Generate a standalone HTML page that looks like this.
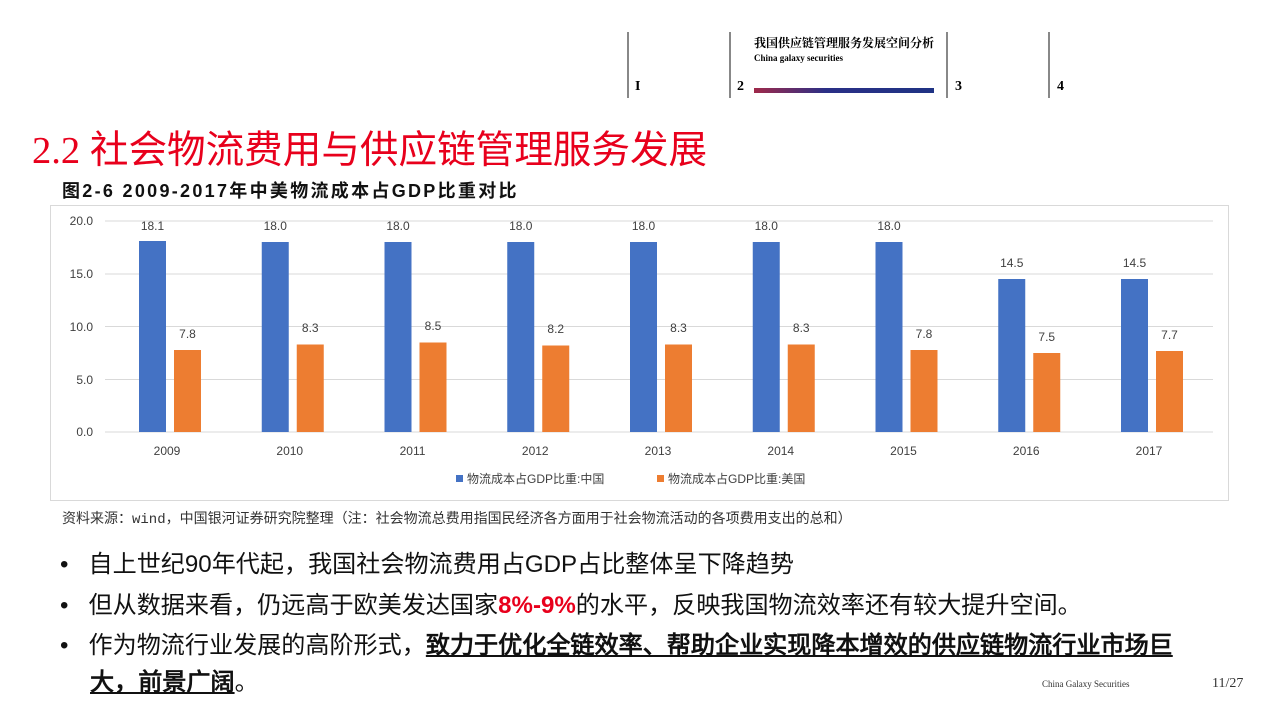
<!DOCTYPE html>
<html><head><meta charset="utf-8"><style>
body{margin:0;width:1280px;height:720px;background:#fff;position:relative;overflow:hidden;font-family:"Liberation Sans","Noto Sans CJK SC",sans-serif}
.a{position:absolute;white-space:nowrap}
.vl{position:absolute;width:2px;background:#888;top:32px;height:66px}
.n{position:absolute;top:79px;font:bold 14px "Liberation Serif",serif}
</style></head><body>
<div class="vl" style="left:627px"></div><div class="vl" style="left:729px"></div><div class="vl" style="left:946px"></div><div class="vl" style="left:1048px"></div>
<div class="n" style="left:635px">I</div><div class="n" style="left:737px">2</div><div class="n" style="left:955px">3</div><div class="n" style="left:1057px">4</div>
<div class="a" style="left:754px;top:34px;font:bold 12px 'Noto Serif CJK SC',serif">我国供应链管理服务发展空间分析</div>
<div class="a" style="left:754px;top:53px;font:bold 9px 'Liberation Serif',serif">China galaxy securities</div>
<div class="a" style="left:754px;top:88px;width:180px;height:5px;background:linear-gradient(90deg,#a0294a,#2a2f86 40%,#1f3384)"></div>
<div class="a" style="left:32px;top:126px;font:38.6px 'Liberation Serif','Noto Sans CJK SC',sans-serif;color:#e8001c;line-height:50px">2.2 社会物流费用与供应链管理服务发展</div>
<div class="a" style="left:62px;top:177px;font:bold 18px 'Liberation Sans','Noto Sans CJK SC',sans-serif;color:#111;letter-spacing:2.3px">图2-6 2009-2017年中美物流成本占GDP比重对比</div>
<div class="a" style="left:50px;top:205px;width:1177px;height:294px;border:1px solid #d9d9d9"></div>
<svg class="a" style="left:0;top:0" width="1280" height="720" font-family="Liberation Sans, Noto Sans CJK SC, sans-serif" font-size="12" fill="#404040">
<g stroke="#d9d9d9"><line x1="105" x2="1213" y1="221" y2="221"/><line x1="105" x2="1213" y1="274" y2="274"/><line x1="105" x2="1213" y1="326.5" y2="326.5"/><line x1="105" x2="1213" y1="379.5" y2="379.5"/><line x1="105" x2="1213" y1="432" y2="432"/></g>
<g text-anchor="end"><text x="93" y="225">20.0</text><text x="93" y="278">15.0</text><text x="93" y="331">10.0</text><text x="93" y="384">5.0</text><text x="93" y="436">0.0</text></g>
<g fill="#4472c4">
<rect x="139" y="241" width="27" height="191"/><rect x="261.75" y="242" width="27" height="190"/><rect x="384.5" y="242" width="27" height="190"/><rect x="507.25" y="242" width="27" height="190"/><rect x="630" y="242" width="27" height="190"/><rect x="752.75" y="242" width="27" height="190"/><rect x="875.5" y="242" width="27" height="190"/><rect x="998.25" y="279" width="27" height="153"/><rect x="1121" y="279" width="27" height="153"/></g>
<g fill="#ed7d31">
<rect x="174" y="350" width="27" height="82"/><rect x="296.75" y="344.5" width="27" height="87.5"/><rect x="419.5" y="342.5" width="27" height="89.5"/><rect x="542.25" y="345.5" width="27" height="86.5"/><rect x="665" y="344.5" width="27" height="87.5"/><rect x="787.75" y="344.5" width="27" height="87.5"/><rect x="910.5" y="350" width="27" height="82"/><rect x="1033.25" y="353" width="27" height="79"/><rect x="1156" y="351" width="27" height="81"/></g>
<g text-anchor="middle">
<text x="152.5" y="230">18.1</text><text x="275.25" y="230">18.0</text><text x="398" y="230">18.0</text><text x="520.75" y="230">18.0</text><text x="643.5" y="230">18.0</text><text x="766.25" y="230">18.0</text><text x="889" y="230">18.0</text><text x="1011.75" y="267">14.5</text><text x="1134.5" y="267">14.5</text>
<text x="187.5" y="338">7.8</text><text x="310.25" y="332">8.3</text><text x="433" y="330">8.5</text><text x="555.75" y="333">8.2</text><text x="678.5" y="332">8.3</text><text x="801.25" y="332">8.3</text><text x="924" y="338">7.8</text><text x="1046.75" y="341">7.5</text><text x="1169.5" y="339">7.7</text>
<text x="167" y="455">2009</text><text x="289.75" y="455">2010</text><text x="412.5" y="455">2011</text><text x="535.25" y="455">2012</text><text x="658" y="455">2013</text><text x="780.75" y="455">2014</text><text x="903.5" y="455">2015</text><text x="1026.25" y="455">2016</text><text x="1149" y="455">2017</text></g>
<rect x="456" y="475" width="7" height="7" fill="#4472c4"/><text x="467" y="483">物流成本占GDP比重:中国</text>
<rect x="657" y="475" width="7" height="7" fill="#ed7d31"/><text x="668" y="483">物流成本占GDP比重:美国</text>
</svg>
<div class="a" style="left:62px;top:508px;font:14px 'Liberation Mono','WenQuanYi Zen Hei',monospace;color:#333">资料来源：wind，中国银河证券研究院整理（注：社会物流总费用指国民经济各方面用于社会物流活动的各项费用支出的总和）</div>
<div class="a" style="left:60px;top:545px;font:24.1px 'WenQuanYi Zen Hei',sans-serif;color:#111;line-height:40.5px">
<div>•&nbsp;&nbsp;&nbsp;自上世纪90年代起，我国社会物流费用占GDP占比整体呈下降趋势</div>
<div>•&nbsp;&nbsp;&nbsp;但从数据来看，仍远高于欧美发达国家<b style="color:#e8001c">8%-9%</b>的水平，反映我国物流效率还有较大提升空间。</div>
<div>•&nbsp;&nbsp;&nbsp;作为物流行业发展的高阶形式，<b><u>致力于优化全链效率、帮助企业实现降本增效的供应链物流行业市场巨</u></b></div>
<div style="padding-left:30px;margin-top:-4px"><b><u>大，前景广阔</u></b>。</div>
</div>
<div class="a" style="left:1042px;top:679px;font:9px 'Liberation Serif',serif;color:#333">China Galaxy Securities</div>
<div class="a" style="left:1212px;top:676px;font:14px 'Liberation Serif',serif;color:#333">11/27</div>
</body></html>
